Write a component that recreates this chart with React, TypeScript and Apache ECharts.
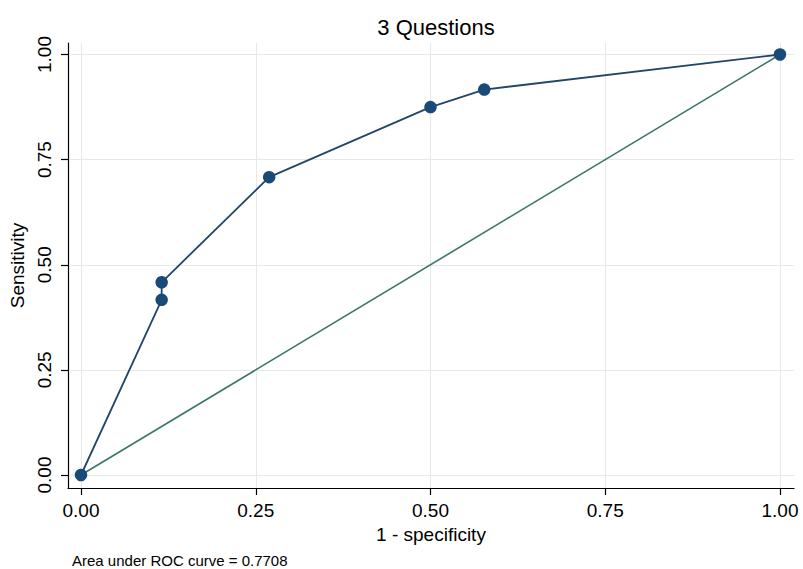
import React, { useEffect, useRef } from "react";
import * as echarts from "echarts";

const title = "3 Questions";
const xName = "1 - specificity";
const yName = "Sensitivity";
const note = "Area under ROC curve = 0.7708";
const tickValues = [0, 0.25, 0.5, 0.75, 1];
const oneMinusSpec = [0, 3 / 26, 3 / 26, 7 / 26, 13 / 26, 15 / 26, 1];
const sensitivity = [0, 10 / 24, 11 / 24, 17 / 24, 21 / 24, 22 / 24, 1];
const refX = [0, 1];
const refY = [0, 1];

const FONT = "'Liberation Sans', Arial, Helvetica, sans-serif";

export default function App() {
  const ref = useRef<HTMLDivElement>(null);
  useEffect(() => {
    if (!ref.current) return;
    const chart = echarts.init(ref.current, null, { renderer: "svg" });
    const fmt = (v: number) => v.toFixed(2);
    chart.setOption({
      animation: false,
      backgroundColor: "#ffffff",
      title: {
        text: title,
        left: 431,
        textAlign: "center",
        top: 11,
        textStyle: { fontFamily: FONT, fontSize: 22, fontWeight: "normal", color: "#000" },
      },
      grid: { left: 68, right: 9, top: 43, bottom: 81 },
      xAxis: {
        type: "value",
        min: -13 / 699,
        max: 1 + 14 / 699,
        name: xName,
        nameLocation: "middle",
        nameGap: 36,
        nameTextStyle: { fontFamily: FONT, fontSize: 19, color: "#000" },
        axisLine: { show: true, onZero: false, lineStyle: { color: "#000", width: 1.2 } },
        axisTick: { show: true, length: 7, customValues: tickValues, lineStyle: { color: "#000", width: 1.2 } },
        axisLabel: { customValues: tickValues, formatter: fmt, margin: 13, fontFamily: FONT, fontSize: 19, color: "#000" },
        splitLine: { show: true, lineStyle: { color: "#e8e8e8", width: 1 } },
      },
      yAxis: {
        type: "value",
        min: -13 / 420.5,
        max: 1 + 11.5 / 420.5,
        name: yName,
        nameLocation: "middle",
        nameGap: 38,
        nameRotate: 90,
        nameTextStyle: { fontFamily: FONT, fontSize: 19, color: "#000" },
        axisLine: { show: true, onZero: false, lineStyle: { color: "#000", width: 1.2 } },
        axisTick: { show: true, length: 7, customValues: tickValues, lineStyle: { color: "#000", width: 1.2 } },
        axisLabel: { customValues: tickValues, formatter: fmt, rotate: 90, margin: 14, fontFamily: FONT, fontSize: 19, color: "#000" },
        splitLine: { show: true, lineStyle: { color: "#e8e8e8", width: 1 } },
      },
      graphic: [
        {
          type: "text",
          left: 72,
          top: 553,
          style: { text: note, fontFamily: FONT, fontSize: 15, fill: "#000" },
        },
      ],
      series: [
        {
          type: "line",
          data: refX.map((x, i) => [x, refY[i]]),
          symbol: "none",
          lineStyle: { color: "#3a7767", width: 1.6 },
          z: 2,
        },
        {
          type: "line",
          data: oneMinusSpec.map((x, i) => [x, sensitivity[i]]),
          symbol: "circle",
          symbolSize: 12.5,
          itemStyle: { color: "#1a4a78" },
          lineStyle: { color: "#22456a", width: 1.8 },
          z: 3,
        },
      ],
    });
    return () => chart.dispose();
  }, []);
  return <div ref={ref} style={{ width: 803, height: 569, position: "absolute", left: 0, top: 0 }} />;
}
